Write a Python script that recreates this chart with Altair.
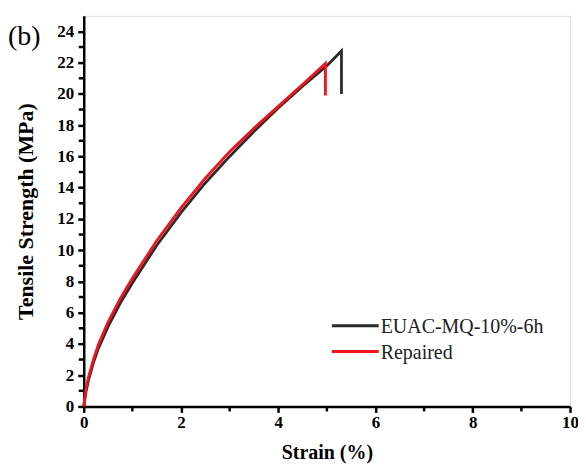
import altair as alt
import pandas as pd

series_names = ["EUAC-MQ-10%-6h", "Repaired"]
colors = ["#2b2b2b", "#f0141c"]

strain_a = [0, 0.05, 0.1, 0.2, 0.3, 0.5, 0.75, 1.0, 1.5, 2.0, 2.5, 3.0, 3.5, 4.0, 4.5, 5.0, 5.3, 5.3]
stress_a = [0, 1.0, 1.7, 2.8, 3.7, 5.1, 6.6, 7.9, 10.3, 12.4, 14.3, 16.0, 17.6, 19.1, 20.5, 21.8, 22.75, 20.0]

strain_b = [0, 0.05, 0.1, 0.2, 0.3, 0.5, 0.75, 1.0, 1.5, 2.0, 2.5, 3.0, 3.5, 4.0, 4.5, 4.97, 4.97]
stress_b = [0, 1.2, 1.9, 3.0, 3.95, 5.4, 6.9, 8.2, 10.6, 12.7, 14.6, 16.3, 17.8, 19.2, 20.6, 21.95, 19.9]

x_major = [0, 2, 4, 6, 8, 10]
x_minor = [1, 3, 5, 7, 9]
y_major = list(range(0, 25, 2))
y_minor = list(range(1, 25, 2))

rows = []
for i, (x, y) in enumerate(zip(strain_a, stress_a)):
    rows.append({"series": series_names[0], "strain": x, "stress": y, "idx": i})
for i, (x, y) in enumerate(zip(strain_b, stress_b)):
    rows.append({"series": series_names[1], "strain": x, "stress": y, "idx": i})
df = pd.DataFrame(rows)

FONT = "Liberation Serif"
xs = alt.Scale(domain=[0, 10], nice=False)
ys = alt.Scale(domain=[0, 25], nice=False)
cs = alt.Scale(domain=series_names, range=colors)

x_axis = alt.Axis(
    values=x_major, ticks=True, tickSize=6, tickWidth=2.5, tickColor="black",
    domainWidth=2.5, domainColor="black",
    labelFont=FONT, labelFontWeight="bold", labelFontSize=17, labelColor="black",
    labelPadding=2, grid=False, labelOverlap=False, labelFlush=False,
    title="Strain (%)", titleFont=FONT, titleFontWeight="bold", titleFontSize=20,
    titleColor="black", titlePadding=12,
)
y_axis = alt.Axis(
    values=y_major, ticks=True, tickSize=6, tickWidth=2.5, tickColor="black",
    domainWidth=2.5, domainColor="black",
    labelFont=FONT, labelFontWeight="bold", labelFontSize=17, labelColor="black",
    labelPadding=4, grid=False, labelOverlap=False, labelFlush=False,
    title="Tensile Strength (MPa)", titleFont=FONT, titleFontWeight="bold", titleFontSize=22,
    titleColor="black", titlePadding=19,
)

lines = alt.Chart(df).mark_line(strokeWidth=2.8).encode(
    x=alt.X("strain:Q", scale=xs, axis=x_axis),
    y=alt.Y("stress:Q", scale=ys, axis=y_axis),
    color=alt.Color("series:N", scale=cs, sort=series_names, legend=None),
    order=alt.Order("idx:Q"),
    detail="series:N",
)

minor_x_ticks = alt.Chart(pd.DataFrame({"strain": x_minor})).mark_rule(
    color="black", strokeWidth=2.5
).encode(x=alt.X("strain:Q", scale=xs, axis=x_axis), y=alt.value(392), y2=alt.value(397))

minor_y_ticks = alt.Chart(pd.DataFrame({"stress": y_minor})).mark_rule(
    color="black", strokeWidth=2.5
).encode(y=alt.Y("stress:Q", scale=ys, axis=y_axis), x=alt.value(0), x2=alt.value(-5))

# manual legend (two rows)
legend_layers = []
for k, name in enumerate(series_names):
    ldf = pd.DataFrame({"series": [name]})
    ypix = 311 + 26 * k
    legend_layers.append(
        alt.Chart(ldf).mark_rule(strokeWidth=3).encode(
            x=alt.value(249), x2=alt.value(296), y=alt.value(ypix),
            color=alt.Color("series:N", scale=cs, legend=None),
        )
    )
    legend_layers.append(
        alt.Chart(ldf).mark_text(
            font=FONT, fontSize=20, align="left", baseline="middle", color="#222"
        ).encode(x=alt.value(298), y=alt.value(ypix + 1), text="series:N")
    )

label_b = alt.Chart(pd.DataFrame({"t": ["(b)"]})).mark_text(
    font=FONT, fontSize=28, align="left", baseline="middle", color="black"
).encode(x=alt.value(-76), y=alt.value(21), text="t:N")

chart = alt.layer(lines, minor_x_ticks, minor_y_ticks, *legend_layers, label_b).properties(
    width=488, height=392,
    autosize=alt.AutoSizeParams(type="none"),
    padding={"left": 76, "top": 7, "right": 8, "bottom": 60},
).configure_view(stroke="black", strokeWidth=2.5).configure(background="white")

chart.save("out.html", embed_options={"renderer": "svg", "actions": False})
